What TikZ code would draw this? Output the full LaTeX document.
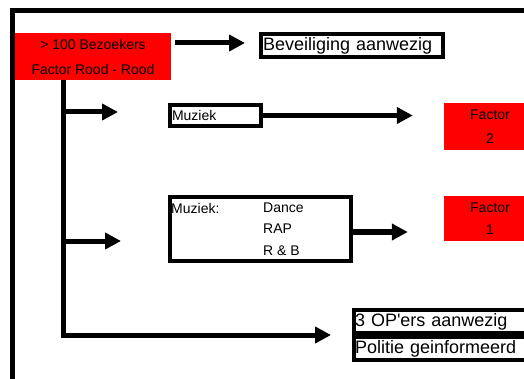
\documentclass[tikz,border=0pt]{standalone}
\usepackage{fontspec}
\setmainfont{Liberation Sans}
\usetikzlibrary{arrows.meta}

\tikzset{
	kader/.style={draw, rectangle, line width=4pt, inner sep=2pt},
	rood/.style={fill=red, rectangle, inner sep=0pt},
	pijl/.style={line width=5pt, -{Triangle[length=16pt, width=16pt]}},
	klein/.style={font=\fontsize{14pt}{22pt}\selectfont},
	groot/.style={font=\fontsize{18pt}{23pt}\selectfont},
}

\begin{document}
\begin{tikzpicture}[x=1pt, y=-1pt]

	\clip (0,0) rectangle (524,379);

	% Bezoekers
	\node[rood, klein, align=center, minimum width=156pt, minimum height=47pt] (bezoekers) at (93,56.5) {> 100 Bezoekers\\[3pt]Factor Rood - Rood};
	% Kader
	\draw[line width=5pt] (12.5,379) -- (12.5,11) -- (524,11);
	% Beveiliging
	\node[kader, groot, minimum width=182pt, minimum height=23pt, text width=178pt, align=left] (beveiliging) at (352,45.5) {Beveiliging aanwezig};
	% Muziek
	\node[kader, klein, minimum width=91pt, minimum height=21pt, text width=87pt, align=left] (muziek) at (215.5,115.5) {Muziek};
	% Muziek: Dance, RAP, R & B
	\node[kader, minimum width=181pt, minimum height=64pt] (genres) at (260.5,229) {};
	\node[klein, inner sep=0pt, anchor=west] (muziekdp) at ([xshift=3pt, yshift=21pt]genres.west) {Muziek:};
	\node[klein, inner sep=0pt, anchor=west] (dance) at ([xshift=95pt, yshift=21pt]genres.west) {Dance};
	\node[klein, inner sep=0pt, anchor=west] (rap) at ([xshift=95pt]genres.west) {RAP};
	\node[klein, inner sep=0pt, anchor=west] (rnb) at ([xshift=95pt, yshift=-22pt]genres.west) {R \& B};
	% Factoren
	\node[rood, klein, align=center, minimum width=92pt, minimum height=47pt] (factor2) at (490,126.5) {Factor\\[2pt]2};
	\node[rood, klein, align=center, minimum width=92pt, minimum height=45pt] (factor1) at (490,218.5) {Factor\\1};
	% OP'ers en politie
	\node[kader, groot, inner sep=1pt, minimum width=176pt, minimum height=23pt, text width=174pt, align=left] (opers) at (442,321.5) {3 OP\textquotesingle ers aanwezig};
	\node[kader, groot, inner sep=1pt, minimum width=176pt, minimum height=23pt, text width=174pt, align=left, anchor=north] (politie) at (opers.south) {Politie geinformeerd};

	% Pijlen
	\coordinate (stam) at ([xshift=-29.5pt]bezoekers.south);
	\draw[pijl] ([xshift=4pt, yshift=2.5pt]bezoekers.east |- beveiliging.west) -- ([xshift=-14pt, yshift=2.5pt]beveiliging.west);
	\draw[pijl] (muziek.east) -- ([xshift=-31pt]factor2.west |- muziek.east);
	\draw[pijl] ([yshift=-3pt]genres.east) -- ([xshift=-36pt, yshift=-3pt]factor1.west |- genres.east);
	\draw[pijl] (stam) |- ([xshift=-21pt]opers.south west);
	\draw[pijl] ([yshift=3.5pt]stam |- muziek.west) -- ([xshift=-50pt, yshift=3.5pt]muziek.west);
	\draw[pijl] ([yshift=-12pt]stam |- genres.west) -- ([xshift=-47pt, yshift=-12pt]genres.west);

\end{tikzpicture}
\end{document}
